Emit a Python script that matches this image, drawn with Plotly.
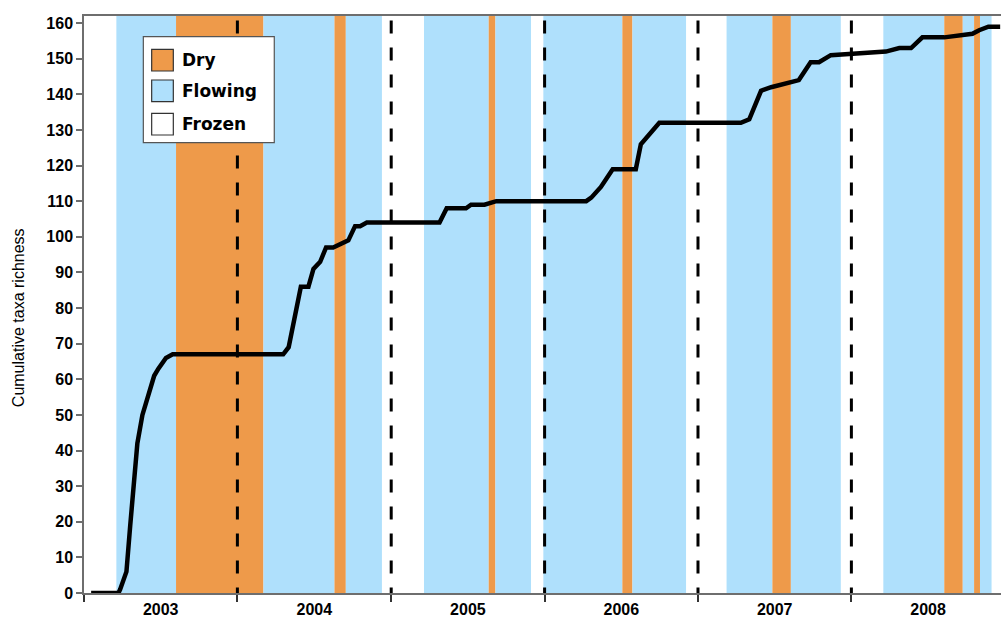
import plotly.graph_objects as go

# ---- data ----
sample_dates = [
    "2003-01-18", "2003-03-24", "2003-03-28", "2003-04-12", "2003-04-21", "2003-05-01",
    "2003-05-08", "2003-05-20", "2003-06-03", "2003-06-17", "2003-06-27", "2003-07-15",
    "2003-07-31", "2004-04-19", "2004-05-02", "2004-05-31", "2004-06-18", "2004-06-30",
    "2004-07-16", "2004-07-30", "2004-08-16", "2004-09-21", "2004-10-07", "2004-10-19",
    "2004-11-04", "2005-04-26", "2005-05-13", "2005-06-28", "2005-07-10", "2005-08-11",
    "2005-09-08", "2006-04-10", "2006-04-22", "2006-05-15", "2006-06-12", "2006-08-06",
    "2006-08-18", "2006-10-01", "2007-04-13", "2007-05-03", "2007-05-31", "2007-06-24",
    "2007-08-29", "2007-09-26", "2007-10-16", "2007-11-13", "2008-03-23", "2008-04-24",
    "2008-05-22", "2008-06-18", "2008-08-09", "2008-10-15", "2008-10-31", "2008-11-22",
    "2008-12-20",
]
cumulative_richness = [
    0, 0, 1, 6, 19, 33,
    42, 50, 55, 61, 63, 66,
    67, 67, 69, 86, 86, 91,
    93, 97, 97, 99, 103, 103,
    104, 104, 108, 108, 109, 109,
    110, 110, 111, 114, 119, 119,
    126, 132, 132, 133, 141, 142,
    144, 149, 149, 151, 152, 153,
    153, 156, 156, 157, 158, 159,
    159,
]

# hydrologic state periods (start, end, state)
period_starts = [
    "2003-01-01", "2003-03-19", "2003-08-08", "2004-03-03", "2004-08-19", "2004-09-15",
    "2004-12-10", "2005-03-20", "2005-08-21", "2005-09-06", "2005-11-30", "2005-12-29",
    "2006-07-05", "2006-07-29", "2006-12-04", "2007-03-10", "2007-06-27", "2007-08-10",
    "2007-12-07", "2008-03-17", "2008-08-09", "2008-09-22", "2008-10-19", "2008-11-02",
    "2008-11-30",
]
period_ends = period_starts[1:] + ["2008-12-22"]
period_states = [
    "Frozen", "Flowing", "Dry", "Flowing", "Dry", "Flowing",
    "Frozen", "Flowing", "Dry", "Flowing", "Frozen", "Flowing",
    "Dry", "Flowing", "Frozen", "Flowing", "Dry", "Flowing",
    "Frozen", "Flowing", "Dry", "Flowing", "Dry", "Flowing",
    "Frozen",
]
year_boundaries = ["2004-01-01", "2005-01-01", "2006-01-01", "2007-01-01", "2008-01-01"]
legend_states = ["Dry", "Flowing", "Frozen"]
y_title = "Cumulative taxa richness"

state_colors = {"Dry": "rgb(238,154,74)", "Flowing": "rgb(175,224,252)", "Frozen": "rgb(255,255,255)"}

fig = go.Figure()

shapes = []
for s, e, st in zip(period_starts, period_ends, period_states):
    shapes.append(dict(type="rect", xref="x", yref="paper", x0=s, x1=e, y0=0, y1=1,
                       fillcolor=state_colors[st], line=dict(width=0), layer="below"))
for yb in year_boundaries:
    shapes.append(dict(type="line", xref="x", yref="paper", x0=yb, x1=yb, y0=0.992, y1=0,
                       line=dict(color="black", width=3, dash="13px,14px"), layer="below"))

fig.add_trace(go.Scatter(
    x=sample_dates, y=cumulative_richness, mode="lines",
    line=dict(color="black", width=4.5), showlegend=False, hoverinfo="skip",
))

# manual legend box (paper coords)
shapes.append(dict(type="rect", xref="paper", yref="paper", x0=0.0647, x1=0.2075, y0=0.7804, y1=0.9641,
                   fillcolor="white", line=dict(color="#555555", width=1.2), layer="above"))
sw_y = [(0.9047, 0.9423), (0.8515, 0.8891), (0.7938, 0.8314)]
annotations = []
for st, (y0, y1) in zip(legend_states, sw_y):
    shapes.append(dict(type="rect", xref="paper", yref="paper", x0=0.0738, x1=0.0974, y0=y0, y1=y1,
                       fillcolor=state_colors[st], line=dict(color="#333333", width=1.2), layer="above"))
    annotations.append(dict(xref="paper", yref="paper", x=0.1047, y=(y0 + y1) / 2, text=st,
                            showarrow=False, xanchor="left", yanchor="middle",
                            font=dict(family="DejaVu Sans", size=17, color="black", weight="bold")))

annotations.append(dict(xref="paper", yref="paper", x=-0.072, y=0.478, text=y_title,
                        textangle=-90, showarrow=False, xanchor="center", yanchor="middle",
                        font=dict(family="Liberation Sans, Arial", size=16, color="black")))

fig.update_layout(
    width=1001, height=619,
    margin=dict(l=84, r=0, t=16, b=26, autoexpand=False),
    paper_bgcolor="white", plot_bgcolor="white",
    shapes=shapes, annotations=annotations,
    showlegend=False,
    xaxis=dict(
        type="date", range=["2003-01-01", "2008-12-22"], automargin=False,
        dtick="M12", tick0="2003-01-01", tickformat="%Y", ticklabelmode="period",
        ticks="outside", ticklen=7, tickwidth=1.5, tickcolor="#333333",
        ticklabelstandoff=-6,
        showline=True, linecolor="#6e6e6e", linewidth=1.5, mirror=True,
        showgrid=False, zeroline=False,
        tickfont=dict(family="Liberation Sans, Arial", size=16, color="black", weight="bold"),
    ),
    yaxis=dict(
        range=[0, 162], dtick=10, tick0=0, automargin=False,
        ticks="outside", ticklen=6, tickwidth=1.5, tickcolor="#6e6e6e",
        showline=True, linecolor="#6e6e6e", linewidth=1.5,
        showgrid=False, zeroline=False,
        tickfont=dict(family="Liberation Sans, Arial", size=16, color="black", weight="bold"),
    ),
)

fig.write_html("out.html", config={"displayModeBar": False},
               post_script="document.body.style.margin='0';")
